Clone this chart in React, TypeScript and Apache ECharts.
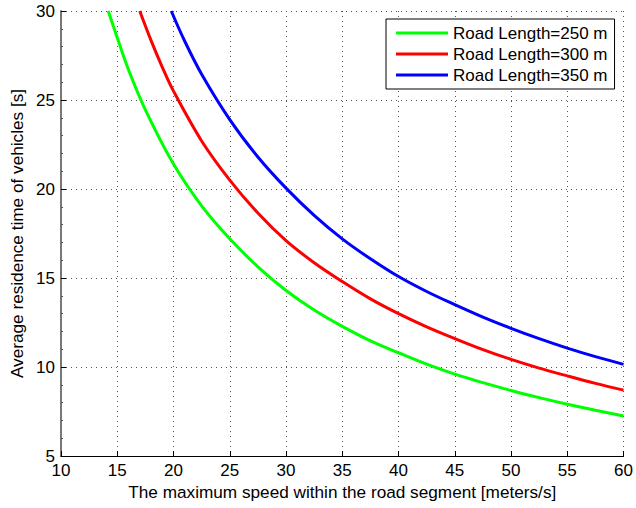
import React, { useEffect, useRef } from "react";
import * as echarts from "echarts";

const xTicks = [10, 15, 20, 25, 30, 35, 40, 45, 50, 55, 60];
const yTicks = [5, 10, 15, 20, 25, 30];

const seriesNames = ["Road Length=250 m", "Road Length=300 m", "Road Length=350 m"];
const seriesColors = ["#00ff00", "#ff0000", "#0000ff"];

const speed250 = [14.2, 15, 16, 17.5, 20, 22.5, 25, 27.5, 30, 32.5, 35, 37.5, 40, 42.5, 45, 47.5, 50, 52.5, 55, 57.5, 60];
const time250 = [30, 28.5, 26.7, 24.45, 21.4, 19.05, 17.2, 15.63, 14.3, 13.2, 12.28, 11.47, 10.8, 10.16, 9.6, 9.12, 8.68, 8.28, 7.91, 7.57, 7.25];

const speed300 = [17.0, 18, 19, 20, 22.5, 25, 27.5, 30, 32.5, 35, 37.5, 40, 42.5, 45, 47.5, 50, 52.5, 55, 57.5, 60];
const time300 = [30, 28.35, 26.85, 25.5, 22.7, 20.5, 18.65, 17.1, 15.86, 14.8, 13.83, 13.0, 12.26, 11.6, 10.98, 10.43, 9.94, 9.5, 9.08, 8.7];

const speed350 = [19.8, 21, 22.5, 25, 27.5, 30, 32.5, 35, 37.5, 40, 42.5, 45, 47.5, 50, 52.5, 55, 57.5, 60];
const time350 = [30, 28.3, 26.45, 23.9, 21.8, 20.05, 18.52, 17.2, 16.08, 15.08, 14.24, 13.5, 12.8, 12.17, 11.59, 11.06, 10.58, 10.15];

const speeds = [speed250, speed300, speed350];
const times = [time250, time300, time350];

const FONT = "'Liberation Sans', Arial, Helvetica, sans-serif";

export default function App() {
  const ref = useRef<HTMLDivElement>(null);
  useEffect(() => {
    if (!ref.current) return;
    const chart = echarts.init(ref.current, undefined, { renderer: "svg" });
    const grid = { lineStyle: { color: "#555", width: 1, type: [1, 4] } };
    chart.setOption({
      animation: false,
      backgroundColor: "#ffffff",
      textStyle: { fontFamily: FONT },
      grid: { left: 61, right: 10, top: 11, bottom: 52, containLabel: false },
      legend: {
        orient: "vertical",
        left: 386,
        top: 19,
        padding: [5, 7, 5, 10],
        itemGap: 3,
        itemWidth: 52,
        itemHeight: 3,
        borderColor: "#000",
        borderWidth: 1,
        backgroundColor: "#fff",
        borderRadius: 0,
        textStyle: { fontSize: 17, lineHeight: 18, color: "#000", fontFamily: FONT },
        data: seriesNames.map((n) => ({ name: n, icon: "rect" })),
      },
      xAxis: {
        type: "value",
        min: xTicks[0],
        max: xTicks[xTicks.length - 1],
        interval: 5,
        name: "The maximum speed within the road segment [meters/s]",
        nameLocation: "middle",
        nameGap: 27,
        nameTextStyle: { fontSize: 17.2, color: "#000", fontFamily: FONT },
        axisLine: { show: true, onZero: false, lineStyle: { color: "#000", width: 1 } },
        axisTick: { show: true, inside: true, length: 5, lineStyle: { color: "#000" } },
        axisLabel: { fontSize: 17, color: "#000", margin: 6, fontFamily: FONT },
        splitLine: { show: true, ...grid },
      },
      yAxis: {
        type: "value",
        min: yTicks[0],
        max: yTicks[yTicks.length - 1],
        interval: 5,
        name: "Average residence time of vehicles [s]",
        nameLocation: "middle",
        nameGap: 34,
        nameTextStyle: { fontSize: 17.2, color: "#000", fontFamily: FONT },
        axisLine: { show: true, onZero: false, lineStyle: { color: "#777", width: 2 } },
        axisTick: { show: true, inside: true, length: 5, lineStyle: { color: "#000" } },
        minorTick: { show: true, splitNumber: 5, length: 2, lineStyle: { color: "#555" } },
        axisLabel: { fontSize: 17, color: "#000", margin: 6, fontFamily: FONT },
        splitLine: { show: true, ...grid },
      },
      series: seriesNames.map((name, i) => ({
        name,
        type: "line",
        data: speeds[i].map((x, j) => [x, times[i][j]]),
        showSymbol: false,
        symbol: "none",
        smooth: 0.35,
        clip: true,
        lineStyle: { color: seriesColors[i], width: 3 },
        itemStyle: { color: seriesColors[i] },
      })),
    });
    return () => chart.dispose();
  }, []);
  return (
    <div
      ref={ref}
      style={{ position: "fixed", left: 0, top: 0, width: 636, height: 508, background: "#fff" }}
    />
  );
}
